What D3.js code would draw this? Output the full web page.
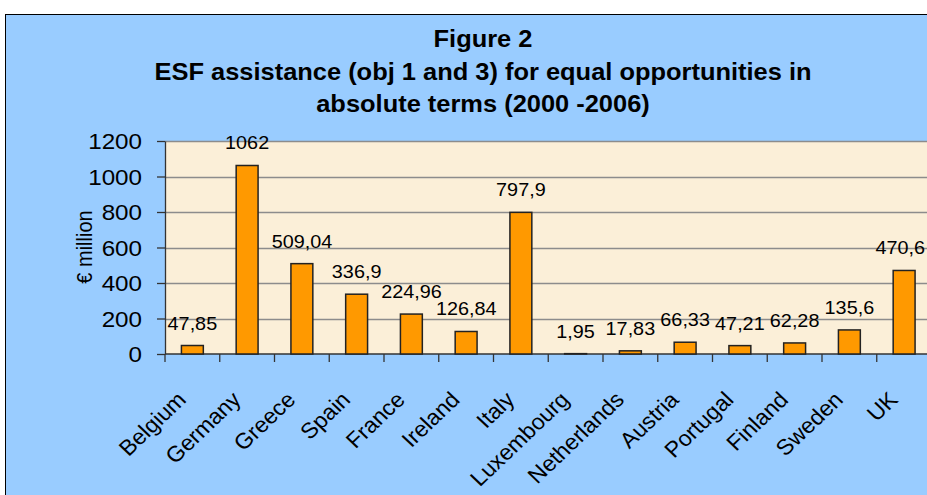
<!DOCTYPE html>
<html>
<head>
<meta charset="utf-8">
<script src="https://cdn.jsdelivr.net/npm/d3@7"></script>
<style>
  html, body { margin: 0; padding: 0; background: #fff; overflow: hidden; }
  text { font-family: "Liberation Sans", Arial, sans-serif; }
</style>
</head>
<body>
<div id="chart"></div>
<script>
'use strict';

var countries = ['Belgium', 'Germany', 'Greece', 'Spain', 'France', 'Ireland', 'Italy',
    'Luxembourg', 'Netherlands', 'Austria', 'Portugal', 'Finland', 'Sweden', 'UK'];
var values = [47.85, 1062, 509.04, 336.9, 224.96, 126.84, 797.9,
    1.95, 17.83, 66.33, 47.21, 62.28, 135.6, 470.6];
var valueLabels = ['47,85', '1062', '509,04', '336,9', '224,96', '126,84', '797,9',
    '1,95', '17,83', '66,33', '47,21', '62,28', '135,6', '470,6'];
var yTicks = [0, 200, 400, 600, 800, 1000, 1200];
var titleLines = ['Figure 2', 'ESF assistance (obj 1 and 3) for equal opportunities in', 'absolute terms (2000 -2006)'];

var width = 927, height = 495;
var plot = { left: 165, top: 141, bottom: 354, band: 54.75 };
var stretch = 1.1; // the original picture is a little wider than its fonts

var svg = d3.select('#chart').append('svg')
    .attr('width', width)
    .attr('height', height);

// blue chart area
svg.append('rect')
    .attr('x', 5.5).attr('y', 14.5)
    .attr('width', width + 10).attr('height', height + 10)
    .style('fill', '#99ccff')
    .style('stroke', '#000')
    .style('stroke-width', 1);

var x = d3.scaleBand()
    .domain(countries)
    .range([plot.left, plot.left + plot.band * countries.length])
    .paddingInner(0.6)
    .paddingOuter(0.3);

var y = d3.scaleLinear()
    .domain([0, 1200])
    .range([plot.bottom, plot.top]);

// plot background
svg.append('rect')
    .attr('x', plot.left).attr('y', plot.top)
    .attr('width', plot.band * countries.length).attr('height', plot.bottom - plot.top)
    .style('fill', '#fbefd8');

// grid lines
svg.selectAll('line.grid')
    .data(yTicks.slice(1))
    .enter().append('line')
    .attr('class', 'grid')
    .attr('x1', plot.left).attr('x2', plot.left + plot.band * countries.length)
    .attr('y1', function(d) { return Math.round(y(d)) + 0.5; })
    .attr('y2', function(d) { return Math.round(y(d)) + 0.5; })
    .style('stroke', '#8c8c8c')
    .style('stroke-width', 1.3);

// y axis
var yAxis = svg.append('g')
    .attr('transform', 'translate(' + plot.left + ',0)')
    .call(d3.axisLeft(y).tickValues(yTicks).tickFormat(d3.format('d')).tickSize(8).tickSizeOuter(0));
yAxis.selectAll('text')
    .attr('x', 0)
    .attr('dy', '0.36em')
    .attr('transform', 'translate(-23,0) scale(' + stretch + ',1)')
    .style('font-size', '22px')
    .style('font-family', '"Liberation Sans", Arial, sans-serif')
    .style('fill', '#000');
yAxis.selectAll('line, path').style('stroke', '#333').style('stroke-width', 1.3);

// x axis
var xAxis = svg.append('g')
    .attr('transform', 'translate(0,' + plot.bottom + ')');
xAxis.append('line')
    .attr('x1', plot.left).attr('x2', plot.left + plot.band * countries.length)
    .style('stroke', '#333').style('stroke-width', 1.3);
xAxis.selectAll('line.tick')
    .data(d3.range(countries.length + 1))
    .enter().append('line')
    .attr('class', 'tick')
    .attr('x1', function(i) { return plot.left + i * plot.band; })
    .attr('x2', function(i) { return plot.left + i * plot.band; })
    .attr('y1', 0).attr('y2', 8)
    .style('stroke', '#333').style('stroke-width', 1.3);

xAxis.selectAll('text.cat')
    .data(countries)
    .enter().append('text')
    .attr('class', 'cat')
    .attr('transform', function(d) {
        return 'translate(' + (x(d) + x.bandwidth() / 2 - 5) + ',' + 47 + ') scale(1.05,1) rotate(-45)';
    })
    .attr('text-anchor', 'end')
    .style('font-size', '22px')
    .text(function(d) { return d; });

// bars
svg.selectAll('rect.bar')
    .data(values)
    .enter().append('rect')
    .attr('class', 'bar')
    .attr('x', function(d, i) { return x(countries[i]); })
    .attr('y', function(d) { return y(d); })
    .attr('width', x.bandwidth())
    .attr('height', function(d) { return plot.bottom - y(d); })
    .style('fill', '#ff9900')
    .style('stroke', '#222')
    .style('stroke-width', 1.5);

// value labels, pushed inside the picture when they would run off its right edge
svg.selectAll('text.val')
    .data(values)
    .enter().append('text')
    .attr('class', 'val')
    .attr('text-anchor', 'middle')
    .style('font-size', '18px')
    .text(function(d, i) { return valueLabels[i]; })
    .attr('transform', function(d, i) {
        var half = this.getComputedTextLength() * stretch / 2;
        var cx = Math.min(x(countries[i]) + x.bandwidth() / 2, width - half - 2);
        return 'translate(' + cx + ',' + (y(d) - 16) + ') scale(' + stretch + ',1)';
    });

// y axis title
svg.append('text')
    .attr('transform', 'translate(92,247) scale(' + stretch + ',1) rotate(-90)')
    .attr('text-anchor', 'middle')
    .style('font-size', '20px')
    .text('€ million');

// title
svg.selectAll('text.title')
    .data(titleLines)
    .enter().append('text')
    .attr('class', 'title')
    .attr('transform', function(d, i) {
        return 'translate(483,' + [47, 80, 112][i] + ') scale(1.06,1)';
    })
    .attr('text-anchor', 'middle')
    .style('font-size', '24px')
    .style('font-weight', 'bold')
    .text(function(d) { return d; });
</script>
</body>
</html>
